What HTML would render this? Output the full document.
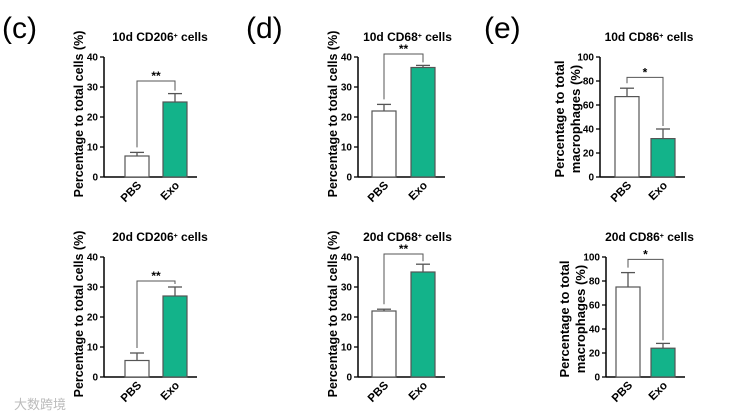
<!DOCTYPE html>
<html><head><meta charset="utf-8"><style>
body{margin:0;background:#fff;}
svg{display:block;font-family:"Liberation Sans",Arial,sans-serif;}
</style></head><body>
<svg id="chart" width="737" height="415" viewBox="0 0 737 415"></svg>
<script>
const groups=["PBS","Exo"];
const titles=["10d CD206","20d CD206","10d CD68","20d CD68","10d CD86","20d CD86"];
const meanVals=[[7,25],[5.5,27],[22,36.5],[22,35],[67,32],[75,24]];
const errTops=[[8.2,27.8],[8,30],[24.2,37.2],[22.6,37.6],[74,40],[87,28]];
const yMaxes=[40,40,40,40,100,100];
const yTicks=[[0,10,20,30,40],[0,10,20,30,40],[0,10,20,30,40],[0,10,20,30,40],[0,20,40,60,80,100],[0,20,40,60,80,100]];
const sigLabels=["**","**","**","**","*","*"];
const sigLevels=[32,32,41,41,83,98];
const panelLetters=["(c)","(d)","(e)"];
const layout=[
 {ax:104,top:57,bot:177,b:[125,163],lx:83},
 {ax:104,top:257,bot:377,b:[125,163],lx:83},
 {ax:358,top:57,bot:177,b:[372,411],lx:337},
 {ax:358,top:257,bot:377,b:[372,411],lx:337},
 {ax:600,top:57,bot:177,b:[615,651],lx:564},
 {ax:606,top:257,bot:377,b:[616,651],lx:569}
];
const NS="http://www.w3.org/2000/svg";
const svg=document.getElementById('chart');
function mk(tag,attrs,parent,text){const e=document.createElementNS(NS,tag);for(const k in attrs)e.setAttribute(k,attrs[k]);if(text!==undefined)e.textContent=text;(parent||svg).appendChild(e);return e;}
[[2,38],[246,38],[484,38]].forEach((p,i)=>{
 const t=mk('text',{x:p[0],y:p[1],'font-size':30},svg,panelLetters[i]);
 
 
});
const wm=mk('text',{x:14,y:409,'font-size':13,fill:'#bbb','font-family':'"Liberation Sans","Noto Sans CJK SC",sans-serif'},svg,'大数跨境');


layout.forEach((L,i)=>{
 const g=mk('g',{});
 
 
 const y=v=>L.bot-(v/yMaxes[i])*(L.bot-L.top);
 const bw=24;
 const cx=L.b.map(b=>b+bw/2);
 const midX=(cx[0]+cx[1])/2;
 const tt=mk('text',{x:midX+4,y:L.top-16,'font-size':12,'font-weight':'bold','text-anchor':'middle'},g);
 tt.appendChild(document.createTextNode(titles[i]));
 mk('tspan',{'baseline-shift':'super','font-size':7},tt,'+');
 tt.appendChild(document.createTextNode(' cells'));
 
 
 const ya=mk('line',{x1:L.ax,y1:L.top,x2:L.ax,y2:L.bot,stroke:'#000','stroke-width':1.5},g);
 
 
 yTicks[i].forEach(v=>{
  mk('line',{x1:L.ax-4,y1:y(v),x2:L.ax,y2:y(v),stroke:'#000','stroke-width':1.3},g);
  const tl=mk('text',{x:L.ax-6,y:y(v)+3.5,'font-size':10,'font-weight':'bold','text-anchor':'end'},g,v);
  
  
 });
 const xa=mk('line',{x1:L.ax,y1:L.bot,x2:L.b[1]+bw+10,y2:L.bot,stroke:'#000','stroke-width':1.5},g);
 
 
 const mid=(L.top+L.bot)/2;
 if(i<4){
  const yt=mk('text',{transform:`translate(${L.lx},${mid-3}) rotate(-90)`,'font-size':12.5,'font-weight':'bold','text-anchor':'middle'},g,'Percentage to total cells (%)');
  
  
 } else {
  const yt=mk('text',{transform:`translate(${L.lx},${mid+2}) rotate(-90)`,'font-size':13,'font-weight':'bold','text-anchor':'middle'},g);
  mk('tspan',{x:0,dy:0},yt,'Percentage to total');
  mk('tspan',{x:0,dy:16},yt,'macrophages (%)');
  
  
 }
 groups.forEach((gname,j)=>{
  const x0=L.b[j];
  mk('line',{x1:cx[j],y1:y(meanVals[i][j]),x2:cx[j],y2:y(errTops[i][j]),stroke:'#555','stroke-width':1.3},g);
  mk('line',{x1:cx[j]-7,y1:y(errTops[i][j]),x2:cx[j]+7,y2:y(errTops[i][j]),stroke:'#555','stroke-width':1.3},g);
  const r=mk('rect',{x:x0,y:y(meanVals[i][j]),width:bw,height:L.bot-y(meanVals[i][j]),fill:j?'#13b38a':'#fff',stroke:'#555','stroke-width':1.2},g);
  
  
  const xl=mk('text',{transform:`translate(${cx[j]+5},${L.bot+9}) rotate(-45)`,'font-size':11.5,'font-weight':'bold','text-anchor':'end'},g,gname);
  
  
 });
 const sy=y(sigLevels[i]);
 const br=mk('path',{d:`M${cx[0]},${y(errTops[i][0])-5}V${sy}H${cx[1]}V${y(errTops[i][1])-3}`,fill:'none',stroke:'#555','stroke-width':1},g);
 
 
 const st=mk('text',{x:midX,y:sy-1,'font-size':12,'font-weight':'bold','text-anchor':'middle'},g,sigLabels[i]);
 
 
});
</script>
</body></html>
